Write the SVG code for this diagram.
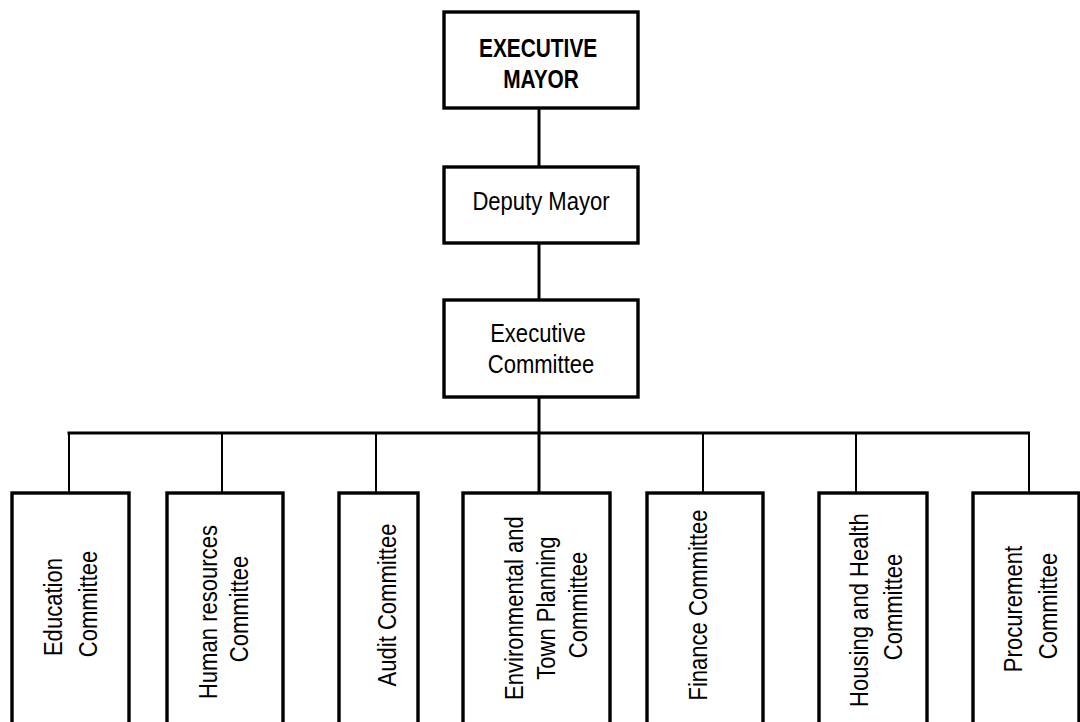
<svg xmlns="http://www.w3.org/2000/svg" width="1080" height="722" viewBox="0 0 1080 722">
  <style>
    .box { fill: #ffffff; stroke: #000000; stroke-width: 3.4; }
    .trunk { stroke: #000000; stroke-width: 3; fill: none; }
    .stem { stroke: #000000; stroke-width: 2; fill: none; }
    .lbl { font-family: "Liberation Sans", Arial, sans-serif; font-size: 25.5px; fill: #000000; text-anchor: middle; }
    .bold { font-weight: bold; font-size: 25px; }
  </style>
  <rect width="1080" height="722" fill="#ffffff"/>

  <!-- connectors -->
  <g id="connectors">
    <line class="trunk" x1="539" y1="108" x2="539" y2="167"/>
    <line class="trunk" x1="539" y1="243" x2="539" y2="300"/>
    <line class="trunk" x1="539" y1="397" x2="539" y2="493"/>
    <line class="trunk" x1="67.5" y1="433" x2="1030" y2="433"/>
    <line class="stem" x1="69" y1="433" x2="69" y2="493"/>
    <line class="stem" x1="222" y1="433" x2="222" y2="493"/>
    <line class="stem" x1="376" y1="433" x2="376" y2="493"/>
    <line class="stem" x1="703" y1="433" x2="703" y2="493"/>
    <line class="stem" x1="856" y1="433" x2="856" y2="493"/>
    <line class="stem" x1="1029" y1="433" x2="1029" y2="493"/>
  </g>

  <!-- top of the hierarchy -->
  <g id="executive-mayor">
    <rect class="box" x="444" y="12" width="194" height="96"/>
    <text class="lbl bold" transform="translate(541,0) scale(0.835,1)">
      <tspan x="0" y="57">EXECUTIVE</tspan>
      <tspan x="0" y="88">MAYOR</tspan>
    </text>
  </g>

  <g id="deputy-mayor">
    <rect class="box" x="444" y="167" width="194" height="76"/>
    <text class="lbl" transform="translate(541,0) scale(0.865,1)">
      <tspan x="0" y="210">Deputy Mayor</tspan>
    </text>
  </g>

  <g id="executive-committee">
    <rect class="box" x="444" y="300" width="194" height="97"/>
    <text class="lbl" transform="translate(541,0) scale(0.865,1)">
      <tspan x="0" y="342">Executive</tspan>
      <tspan x="0" y="373">Committee</tspan>
    </text>
  </g>

  <!-- committees (labels run bottom to top) -->
  <g id="education-committee">
    <rect class="box" x="12" y="493" width="117" height="250"/>
    <text class="lbl" transform="translate(62,604) rotate(-90) scale(0.865,1)">
      <tspan x="0" y="0">Education</tspan>
      <tspan x="0" dy="35">Committee</tspan>
    </text>
  </g>

  <g id="human-resources-committee">
    <rect class="box" x="167" y="493" width="116" height="250"/>
    <text class="lbl" transform="translate(217,609) rotate(-90) scale(0.865,1)">
      <tspan x="0" y="0">Human resources</tspan>
      <tspan x="0" dy="31">Committee</tspan>
    </text>
  </g>

  <g id="audit-committee">
    <rect class="box" x="339" y="493" width="79" height="250"/>
    <text class="lbl" transform="translate(396,605) rotate(-90) scale(0.865,1)">
      <tspan x="0" y="0">Audit Committee</tspan>
    </text>
  </g>

  <g id="environmental-committee">
    <rect class="box" x="463" y="493" width="147" height="250"/>
    <text class="lbl" transform="translate(523,605) rotate(-90) scale(0.865,1)">
      <tspan x="0" y="0">Environmental and</tspan>
      <tspan x="0" dy="32">Town Planning</tspan>
      <tspan x="0" dy="32">Committee</tspan>
    </text>
  </g>

  <g id="finance-committee">
    <rect class="box" x="647" y="493" width="116" height="250"/>
    <text class="lbl" transform="translate(707,605) rotate(-90) scale(0.865,1)">
      <tspan x="0" y="0">Finance Committee</tspan>
    </text>
  </g>

  <g id="housing-health-committee">
    <rect class="box" x="819" y="493" width="108" height="250"/>
    <text class="lbl" transform="translate(868,607) rotate(-90) scale(0.865,1)">
      <tspan x="0" y="0">Housing and Health</tspan>
      <tspan x="0" dy="34">Committee</tspan>
    </text>
  </g>

  <g id="procurement-committee">
    <rect class="box" x="973" y="493" width="106" height="250"/>
    <text class="lbl" transform="translate(1022,606) rotate(-90) scale(0.865,1)">
      <tspan x="0" y="0">Procurement</tspan>
      <tspan x="0" dy="35">Committee</tspan>
    </text>
  </g>
</svg>
